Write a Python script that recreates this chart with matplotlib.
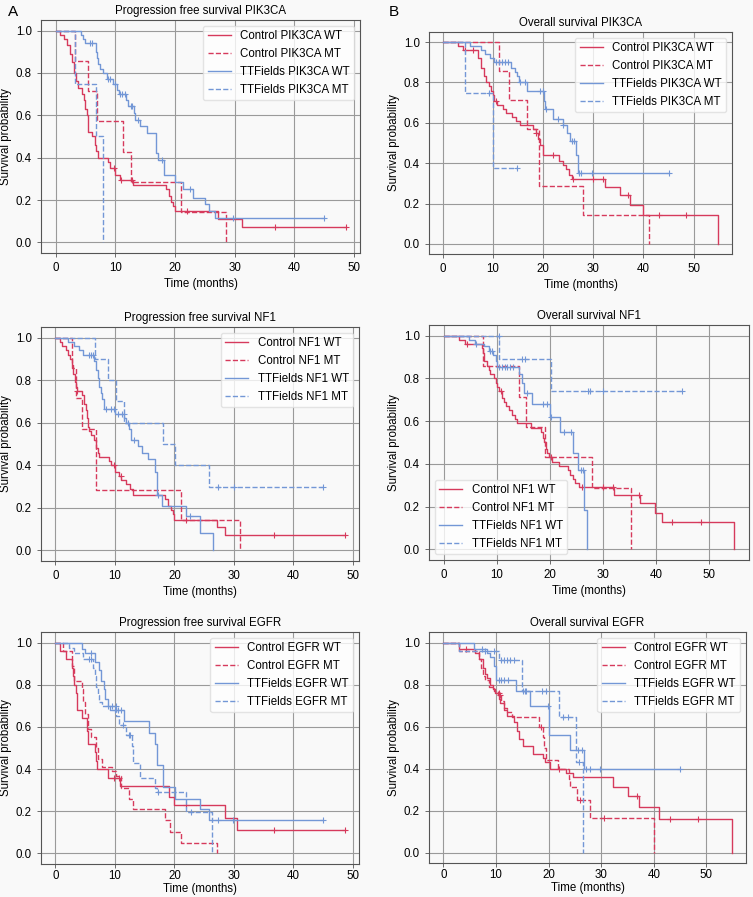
import numpy as np
import matplotlib
matplotlib.use("Agg")
import matplotlib.pyplot as plt

plt.rcParams['font.family'] = ['Liberation Sans', 'DejaVu Sans']
plt.rcParams['font.size'] = 8.3

RED = '#d63a5c'
BLUE = '#7397d6'
BG = '#f9f9f9'

# ---- Progression free survival PIK3CA ----
a_cwt_t = [0.8, 1.5, 2.0, 2.4, 2.8, 3.1, 3.4, 3.7, 4.5, 4.8, 5.0, 5.2, 5.4, 5.5, 6.2, 6.6, 6.8, 7.1, 8.8, 9.1,
           10.0, 10.8, 13.0, 18.5, 19.0, 19.4, 19.7, 20.0, 27.3, 31.2]
a_cwt_s = [0.98, 0.96, 0.93, 0.89, 0.85, 0.80, 0.76, 0.73, 0.70, 0.67, 0.63, 0.60, 0.56, 0.52, 0.50, 0.46, 0.43,
           0.40, 0.38, 0.35, 0.32, 0.295, 0.27, 0.25, 0.22, 0.19, 0.17, 0.15, 0.11, 0.075]
a_cwt_c = [9.8, 11.0, 12.8, 22.0, 36.8, 48.6]
a_cmt_t = [3.3, 5.5, 7.0, 11.3, 12.6, 21.1, 28.5]
a_cmt_s = [0.857, 0.714, 0.571, 0.429, 0.286, 0.143, 0.0]
a_cmt_c = []
a_twt_t = [4.3, 4.6, 5.0, 6.8, 7.0, 7.2, 7.5, 7.9, 8.7, 9.6, 10.3, 10.6, 11.8, 12.2, 13.1, 13.4, 14.2, 15.4,
           16.8, 17.2, 18.2, 20.0, 21.3, 23.0, 25.0, 25.8, 26.8]
a_twt_s = [0.98, 0.96, 0.94, 0.90, 0.87, 0.84, 0.82, 0.80, 0.77, 0.75, 0.72, 0.70, 0.67, 0.645, 0.61, 0.58,
           0.55, 0.515, 0.42, 0.39, 0.32, 0.285, 0.25, 0.21, 0.18, 0.15, 0.115]
a_twt_c = [5.8, 6.2, 8.8, 9.1, 10.0, 10.8, 11.2, 11.6, 12.6, 12.9, 13.8, 17.8, 22.6, 29.8, 45.0]
a_tmt_t = [3.2, 6.8, 7.95]
a_tmt_s = [0.75, 0.5, 0.0]
a_tmt_c = []

# ---- Overall survival PIK3CA ----
b_cwt_t = [3.0, 4.0, 7.0, 7.6, 8.3, 8.6, 9.2, 9.6, 10.0, 10.3, 10.9, 12.0, 12.7, 13.7, 14.5, 15.3, 18.0, 18.5,
           19.0, 19.3, 19.9, 23.1, 24.0, 24.5, 25.1, 25.8, 32.3, 35.3, 37.3, 40.0, 54.9]
b_cwt_s = [0.98, 0.96, 0.92, 0.87, 0.83, 0.80, 0.78, 0.76, 0.74, 0.71, 0.69, 0.67, 0.65, 0.63, 0.61, 0.59,
           0.57, 0.55, 0.52, 0.49, 0.44, 0.41, 0.39, 0.37, 0.34, 0.32, 0.28, 0.24, 0.195, 0.145, 0.0]
b_cwt_c = [4.4, 6.0, 10.7, 18.6, 21.9, 26.0, 30.0, 32.0, 36.9, 43.0, 48.4]
b_cmt_t = [11.3, 13.2, 16.7, 19.2, 28.0, 41.2]
b_cmt_s = [0.857, 0.714, 0.571, 0.286, 0.143, 0.0]
b_cmt_c = []
b_twt_t = [5.5, 7.7, 8.5, 9.5, 10.2, 13.5, 14.4, 14.7, 15.1, 16.7, 20.1, 20.3, 21.9, 24.0, 24.7, 25.3, 26.5, 27.0]
b_twt_s = [0.98, 0.96, 0.94, 0.92, 0.90, 0.87, 0.85, 0.83, 0.80, 0.76, 0.71, 0.67, 0.62, 0.59, 0.55, 0.51,
           0.44, 0.35]
b_twt_c = [10.7, 11.2, 11.8, 12.5, 13.0, 15.3, 16.4, 19.3, 20.0, 20.5, 23.0, 24.0, 25.7, 26.2, 27.2, 27.6,
           29.8, 45.0]
b_tmt_t = [4.5, 10.0]
b_tmt_s = [0.75, 0.375]
b_tmt_c = [9.2, 14.7]

# ---- Progression free survival NF1 ----
c_cwt_t = [0.7, 1.1, 1.7, 2.1, 2.4, 2.7, 3.0, 3.3, 3.5, 3.6, 4.5, 4.8, 5.1, 5.3, 5.4, 5.7, 5.9, 6.4, 6.8, 7.1,
           7.3, 9.0, 9.3, 10.0, 10.7, 11.1, 11.8, 12.5, 13.1, 18.5, 19.0, 19.4, 19.7, 20.0, 27.2, 28.5]
c_cwt_s = [0.98, 0.96, 0.94, 0.92, 0.90, 0.87, 0.83, 0.79, 0.77, 0.75, 0.73, 0.69, 0.66, 0.62, 0.58, 0.56,
           0.54, 0.52, 0.48, 0.46, 0.44, 0.42, 0.40, 0.37, 0.35, 0.33, 0.31, 0.29, 0.26, 0.24, 0.21, 0.19,
           0.17, 0.145, 0.11, 0.072]
c_cwt_c = [3.7, 9.8, 11.0, 22.0, 36.8, 48.6]
c_cmt_t = [2.7, 3.5, 4.4, 6.9, 21.1, 31.1]
c_cmt_s = [0.857, 0.714, 0.571, 0.286, 0.143, 0.0]
c_cmt_c = []
c_twt_t = [2.1, 3.2, 4.0, 4.6, 6.4, 6.8, 7.1, 7.4, 7.6, 7.9, 8.2, 10.0, 11.6, 11.9, 12.4, 12.7, 13.9, 14.6,
           15.6, 16.8, 17.1, 17.9, 22.0, 24.3, 26.5]
c_twt_s = [0.98, 0.96, 0.94, 0.92, 0.89, 0.85, 0.81, 0.77, 0.74, 0.71, 0.665, 0.64, 0.62, 0.60, 0.57, 0.52,
           0.49, 0.46, 0.43, 0.37, 0.26, 0.21, 0.16, 0.08, 0.0]
c_twt_c = [5.6, 6.0, 6.3, 8.5, 9.3, 9.8, 10.5, 11.2, 11.5, 12.2, 13.2, 17.3, 22.6]
c_tmt_t = [6.6, 8.8, 10.2, 11.6, 18.1, 20.1, 25.8]
c_tmt_s = [0.9, 0.8, 0.7, 0.6, 0.5, 0.4, 0.3]
c_tmt_c = [27.3, 30.0, 45.0]

# ---- Overall survival NF1 ----
d_cwt_t = [3.0, 4.0, 7.3, 7.4, 7.7, 8.2, 8.5, 8.8, 9.5, 9.8, 10.1, 10.5, 11.0, 11.4, 11.8, 12.3, 12.9, 13.4,
           13.9, 16.5, 18.4, 18.7, 19.0, 19.3, 19.5, 19.8, 20.5, 21.7, 23.5, 23.9, 24.3, 24.8, 25.5, 32.2,
           37.1, 39.9, 41.2, 54.8]
d_cwt_s = [0.98, 0.96, 0.94, 0.92, 0.88, 0.86, 0.84, 0.82, 0.80, 0.78, 0.76, 0.74, 0.71, 0.69, 0.67, 0.65,
           0.63, 0.61, 0.59, 0.57, 0.55, 0.52, 0.50, 0.47, 0.45, 0.43, 0.41, 0.39, 0.37, 0.35, 0.33, 0.31,
           0.29, 0.255, 0.215, 0.17, 0.13, 0.0]
d_cwt_c = [4.4, 10.9, 20.2, 26.0, 30.0, 32.0, 36.8, 43.1, 48.5]
d_cmt_t = [7.4, 14.3, 15.5, 19.2, 28.0, 35.3]
d_cmt_s = [0.857, 0.714, 0.571, 0.43, 0.286, 0.0]
d_cmt_c = []
d_twt_t = [4.8, 5.9, 7.6, 8.5, 9.3, 9.8, 10.1, 14.3, 14.8, 15.2, 16.7, 20.0, 22.0, 24.4, 25.3, 26.5, 27.0]
d_twt_s = [0.98, 0.96, 0.95, 0.93, 0.91, 0.88, 0.855, 0.82, 0.78, 0.73, 0.68, 0.62, 0.55, 0.45, 0.37,
           0.185, 0.0]
d_twt_c = [6.2, 8.7, 9.2, 10.5, 11.0, 11.5, 12.0, 12.5, 13.0, 15.8, 18.7, 19.4, 20.3, 22.6, 24.0, 25.8, 26.3]
d_tmt_t = [10.5, 20.3]
d_tmt_s = [0.889, 0.74]
d_tmt_c = [10.4, 14.8, 15.3, 27.3, 27.6, 30.0, 45.0]

# ---- Progression free survival EGFR ----
e_cwt_t = [0.7, 1.8, 2.7, 3.0, 3.2, 3.4, 3.6, 4.5, 5.3, 5.5, 6.7, 6.9, 7.0, 8.8, 10.8, 19.1, 19.9, 28.5, 30.5]
e_cwt_s = [0.96, 0.92, 0.88, 0.84, 0.80, 0.76, 0.68, 0.64, 0.58, 0.52, 0.48, 0.44, 0.40, 0.36, 0.32, 0.27,
           0.23, 0.17, 0.11]
e_cwt_c = [9.8, 10.6, 21.9, 36.8, 48.6]
e_cmt_t = [1.3, 2.8, 3.1, 4.5, 4.7, 5.0, 5.5, 6.0, 6.8, 7.1, 7.8, 9.5, 10.2, 11.0, 12.4, 13.0, 18.4, 19.2,
           21.1, 27.2]
e_cmt_s = [0.96, 0.89, 0.82, 0.78, 0.72, 0.66, 0.59, 0.55, 0.50, 0.45, 0.41, 0.39, 0.365, 0.31, 0.26, 0.21,
           0.16, 0.10, 0.05, 0.0]
e_cmt_c = []
e_twt_t = [4.5, 5.0, 6.7, 7.3, 7.6, 8.1, 8.4, 8.8, 9.2, 11.5, 15.7, 16.7, 17.1, 18.1, 20.1, 24.3, 25.8]
e_twt_s = [0.97, 0.95, 0.91, 0.87, 0.82, 0.78, 0.73, 0.70, 0.68, 0.63, 0.57, 0.52, 0.42, 0.315, 0.26, 0.21,
           0.16]
e_twt_c = [6.0, 10.0, 10.5, 11.0, 27.4, 29.8, 45.0]
e_tmt_t = [2.2, 3.2, 4.7, 6.3, 6.6, 6.9, 7.1, 7.4, 7.8, 10.2, 10.6, 11.9, 12.8, 13.1, 14.2, 16.8, 17.1, 22.0,
           26.4]
e_tmt_s = [0.975, 0.95, 0.92, 0.88, 0.84, 0.79, 0.75, 0.72, 0.70, 0.65, 0.61, 0.56, 0.51, 0.43, 0.36, 0.31,
           0.29, 0.195, 0.0]
e_tmt_c = [5.6, 6.0, 8.9, 9.5, 10.1, 11.3, 12.3, 12.6, 17.3, 22.8]

# ---- Overall survival EGFR ----
f_cwt_t = [3.0, 6.1, 6.8, 7.5, 8.0, 8.3, 8.9, 9.4, 9.9, 10.6, 10.8, 11.5, 12.1, 13.4, 14.0, 14.4, 15.1, 17.0,
           19.0, 19.3, 20.3, 23.3, 24.7, 32.3, 35.1, 37.1, 41.0, 54.8]
f_cwt_s = [0.97, 0.95, 0.92, 0.88, 0.85, 0.83, 0.80, 0.78, 0.76, 0.73, 0.71, 0.68, 0.65, 0.62, 0.58, 0.54,
           0.505, 0.47, 0.45, 0.43, 0.40, 0.38, 0.36, 0.31, 0.27, 0.215, 0.16, 0.0]
f_cwt_c = [4.3, 10.5, 21.9, 36.8, 43.1, 48.5]
f_cmt_t = [3.0, 6.7, 7.2, 7.5, 8.0, 8.6, 9.6, 10.4, 11.0, 11.5, 12.1, 13.0, 18.1, 18.9, 19.2, 19.5, 21.8, 23.8,
           24.1, 25.4, 27.9, 40.0]
f_cmt_s = [0.96, 0.92, 0.88, 0.84, 0.82, 0.79, 0.77, 0.75, 0.72, 0.69, 0.67, 0.645, 0.60, 0.55, 0.50, 0.44,
           0.40, 0.35, 0.31, 0.25, 0.165, 0.0]
f_cmt_c = [10.8, 18.6, 26.0, 30.6]
f_twt_t = [5.8, 8.3, 8.9, 9.6, 10.0, 13.8, 16.5, 20.1, 24.1, 26.8]
f_twt_s = [0.97, 0.95, 0.93, 0.89, 0.82, 0.77, 0.70, 0.56, 0.49, 0.40]
f_twt_c = [7.3, 10.5, 11.0, 11.5, 12.2, 15.5, 19.9, 25.6, 26.4, 27.2, 27.8, 29.8, 45.0]
f_tmt_t = [2.9, 10.6, 14.9, 21.9, 25.3, 26.5]
f_tmt_s = [0.96, 0.915, 0.77, 0.645, 0.43, 0.0]
f_tmt_c = [8.0, 9.7, 11.0, 11.5, 12.0, 12.7, 13.5, 15.2, 15.7, 18.7, 19.5, 22.7, 23.7, 25.8]


def km(ax, t, s, c, color, ls, label):
    t = list(t)
    s = list(s)
    end = max([t[-1]] + list(c))
    xs = [0] + t + [end]
    ys = [1.0] + s + [s[-1]]
    ax.step(xs, ys, where='post', color=color, ls=ls, lw=1.0, label=label)
    if len(c):
        cs = np.array(c)
        idx = np.searchsorted(np.array(t), cs, side='right')
        yv = np.concatenate([[1.0], s])[idx]
        ax.plot(cs, yv, '+', color=color, ms=5, mew=0.8)


# pixel boxes (left, right, top, bottom)
boxes = [(41, 360, 20, 253), (429, 732, 32, 254),
         (41, 359, 327, 561), (429, 749, 325, 560),
         (41, 359, 632, 864), (429, 746, 632, 863)]

panels = [
    ("Progression free survival PIK3CA", "PIK3CA",
     [(a_cwt_t, a_cwt_s, a_cwt_c), (a_cmt_t, a_cmt_s, a_cmt_c), (a_twt_t, a_twt_s, a_twt_c), (a_tmt_t, a_tmt_s, a_tmt_c)],
     "upper right"),
    ("Overall survival PIK3CA", "PIK3CA",
     [(b_cwt_t, b_cwt_s, b_cwt_c), (b_cmt_t, b_cmt_s, b_cmt_c), (b_twt_t, b_twt_s, b_twt_c), (b_tmt_t, b_tmt_s, b_tmt_c)],
     "upper right"),
    ("Progression free survival NF1", "NF1",
     [(c_cwt_t, c_cwt_s, c_cwt_c), (c_cmt_t, c_cmt_s, c_cmt_c), (c_twt_t, c_twt_s, c_twt_c), (c_tmt_t, c_tmt_s, c_tmt_c)],
     "upper right"),
    ("Overall survival NF1", "NF1",
     [(d_cwt_t, d_cwt_s, d_cwt_c), (d_cmt_t, d_cmt_s, d_cmt_c), (d_twt_t, d_twt_s, d_twt_c), (d_tmt_t, d_tmt_s, d_tmt_c)],
     "lower left"),
    ("Progression free survival EGFR", "EGFR",
     [(e_cwt_t, e_cwt_s, e_cwt_c), (e_cmt_t, e_cmt_s, e_cmt_c), (e_twt_t, e_twt_s, e_twt_c), (e_tmt_t, e_tmt_s, e_tmt_c)],
     "upper right"),
    ("Overall survival EGFR", "EGFR",
     [(f_cwt_t, f_cwt_s, f_cwt_c), (f_cmt_t, f_cmt_s, f_cmt_c), (f_twt_t, f_twt_s, f_twt_c), (f_tmt_t, f_tmt_s, f_tmt_c)],
     "upper right"),
]

W, H = 753, 897
fig = plt.figure(figsize=(W / 100, H / 100), dpi=100, facecolor=BG)

styles = [(RED, '-', 'Control {} WT'), (RED, '--', 'Control {} MT'),
          (BLUE, '-', 'TTFields {} WT'), (BLUE, '--', 'TTFields {} MT')]

for i, ((l, r, t, b), (title, gene, curves, loc)) in enumerate(zip(boxes, panels)):
    ax = fig.add_axes([l / W, 1 - b / H, (r - l) / W, (b - t) / H])
    ax.set_facecolor(BG)
    for (tt, ss, cc), (col, ls, lab) in zip(curves, styles):
        km(ax, tt, ss, cc, col, ls, lab.format(gene))
    ax.set_ylim(-0.05, 1.05)
    ax.set_yticks([0.0, 0.2, 0.4, 0.6, 0.8, 1.0])
    ax.set_title(title, fontsize=8.3, pad=4)
    bottom_row = i >= 4
    ax.set_xlabel("Time (months)", fontsize=8.3, labelpad=0.5 if bottom_row else 3)
    ax.set_ylabel("Survival probability", fontsize=8.3, labelpad=3)
    ax.grid(True, color='#9a9a9a', lw=0.8)
    ax.set_axisbelow(True)
    for sp in ax.spines.values():
        sp.set_color('#555555')
        sp.set_linewidth(0.8)
    ax.tick_params(labelsize=8.3, length=3, width=0.6, color='#555555')
    if bottom_row:
        ax.tick_params(axis='x', pad=1.5)
    leg = ax.legend(loc=loc, fontsize=8.3, framealpha=0.8, fancybox=True)
    leg.get_frame().set_edgecolor('#dddddd')

fig.text(8 / W, 1 - 12 / H, "A", fontsize=11, va='center')
fig.text(389 / W, 1 - 12 / H, "B", fontsize=11, va='center')

fig.savefig("out.png", dpi=100, facecolor=BG)
